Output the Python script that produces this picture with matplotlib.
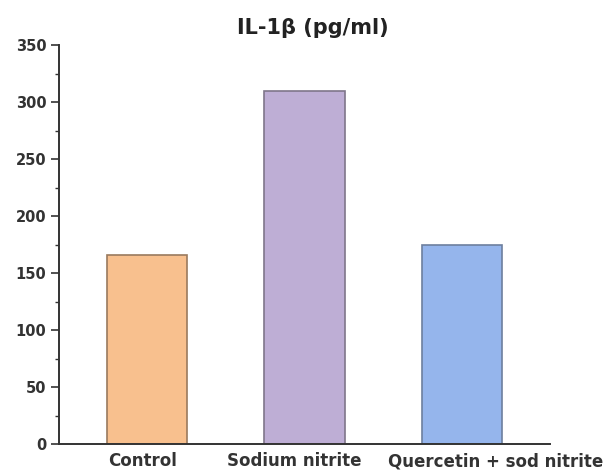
import matplotlib
matplotlib.use("Agg")
import matplotlib.pyplot as plt
from matplotlib.ticker import MultipleLocator
from matplotlib.transforms import ScaledTranslation

plt.rcParams['font.family'] = ['DejaVu Sans']

groups = ["Control", "Sodium nitrite", "Quercetin + sod nitrite"]
il1b = [166, 310, 175]
colors = ["#F8C08E", "#BEAED5", "#95B5EC"]
edges = ["#9a7a5e", "#7f768a", "#6d7f9e"]

fig = plt.figure(figsize=(6.07, 4.74), dpi=100)
ax = fig.add_axes([0.097, 0.063, 0.809, 0.842])

x = range(len(groups))
ax.bar(x, il1b, width=0.51, color=colors, edgecolor=edges, linewidth=1.2)

ax.set_xlim(-0.56, 2.56)
ax.set_ylim(0, 350)
ax.yaxis.set_major_locator(MultipleLocator(50))
ax.yaxis.set_minor_locator(MultipleLocator(25))
ax.set_xticks(list(x))
ax.set_xticklabels(groups, fontsize=12, fontweight='bold', color='#333333')
ax.tick_params(axis='x', length=0, pad=6)
ax.tick_params(axis='y', which='major', length=6, width=1.2, labelsize=10.5, pad=3,
               colors='#333333')
ax.tick_params(axis='y', which='minor', length=3, width=1.0, colors='#333333')
for lbl in ax.get_yticklabels():
    lbl.set_fontweight('bold')

# nudge the category labels sideways (in points)
shifts = [-3, -7, 24]
for lbl, dx in zip(ax.get_xticklabels(), shifts):
    lbl.set_transform(lbl.get_transform() + ScaledTranslation(dx / 72, 0, fig.dpi_scale_trans))

for side in ('top', 'right'):
    ax.spines[side].set_visible(False)
for side in ('left', 'bottom'):
    ax.spines[side].set_linewidth(1.4)
    ax.spines[side].set_color('#333333')

fig.text(0.516, 0.94, "IL-1β (pg/ml)", fontsize=15, fontweight='bold',
         color='#222222', ha='center', va='center')

fig.savefig("out.png", dpi=100)
